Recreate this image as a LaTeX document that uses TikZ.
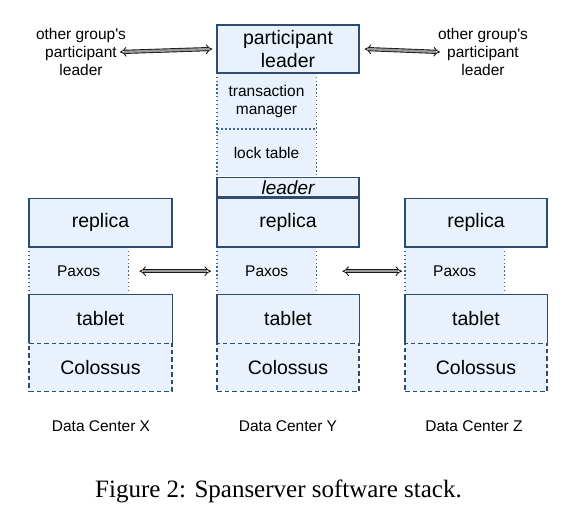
\documentclass[tikz,border=0pt]{standalone}
\usepackage{fontspec}
\setmainfont{Liberation Sans}
\newfontfamily\capfont{Liberation Serif}
\usetikzlibrary{arrows.meta}
\definecolor{boxfill}{HTML}{E8F1FC}
\definecolor{boxline}{HTML}{2C4D70}
\definecolor{dotline}{HTML}{3F6690}
\begin{document}
\begin{tikzpicture}[x=1pt,y=-1pt,
  bigtext/.style={font=\fontsize{19.5}{23.5}\selectfont},
  smalltext/.style={font=\fontsize{15.5}{18}\selectfont},
  solidbox/.style={draw=boxline, fill=boxfill, line width=1.4pt, inner sep=0pt, bigtext, align=center},
  fillbox/.style={fill=boxfill, inner sep=0pt, smalltext, align=center},
  dashbox/.style={draw=boxline, fill=boxfill, line width=1.4pt, dash pattern=on 4.5pt off 3pt, inner sep=0pt, bigtext},
  solidline/.style={draw=boxline, line width=1.4pt},
  dotside/.style={draw=dotline, line width=1.4pt, dash pattern=on 1.3pt off 2.6pt},
  finedash/.style={draw=dotline, line width=1.4pt, dash pattern=on 2.2pt off 1.8pt},
  dbl/.style={draw=black!90, double=black!40, double distance=2.4pt, line width=0.9pt, {Implies}-{Implies}},
  plain/.style={inner sep=0pt, smalltext, align=center}
]
\useasboundingbox (0,0) rectangle (581,510);

% ---------- middle column upper part ----------
\node[solidbox, minimum width=142pt, minimum height=48pt] (pl) at (288,49) {participant\\leader};
\node[fillbox, minimum width=99pt, minimum height=56pt] (tm) at (266.5,101) {transaction\\manager};
\node[fillbox, minimum width=99pt, minimum height=47pt] (lt) at (266.5,152.5) {lock table};
\draw[dotside] (tm.north west) -- (lt.south west);
\draw[dotside] (tm.north east) -- (lt.south east);
\draw[finedash] (tm.south west) -- (tm.south east);
\draw[solidline] (pl.south west) -- (pl.south east);
\node[solidbox, minimum width=142pt, minimum height=19.5pt, font=\fontsize{19}{22}\selectfont\itshape] (ld) at (288,187.25) {leader};

% ---------- columns ----------
\foreach \c/\x/\w in {1/100.5/143, 2/288/142, 3/476/142}{
  \node[fillbox, minimum width=99pt, minimum height=48pt, anchor=north west] (px\c) at (\x-\w/2,247) {Paxos};
  \draw[dotside] (px\c.north west) -- (px\c.south west);
  \draw[dotside] (px\c.north east) -- (px\c.south east);
  \node[solidbox, minimum width=\w pt, minimum height=48.5pt] (rp\c) at (\x,222.75) {replica};
  \node[dashbox, minimum width=\w pt, minimum height=48.5pt] (cl\c) at (\x,367.25) {Colossus};
  \node[fillbox, bigtext, minimum width=\w pt, minimum height=48pt] (tb\c) at (\x,319) {tablet};
  \draw[solidline] (tb\c.south west) -- (tb\c.north west) -- (tb\c.north east) -- (tb\c.south east);
}

% ---------- labels ----------
\node[plain] (ogl) at (81,52) {other group\textquotesingle s\\participant\\leader};
\node[plain] (ogr) at (483,52) {other group\textquotesingle s\\participant\\leader};
\coordinate (ogle) at (120,52);
\coordinate (ogrw) at (440,52);

\node[plain] (dcx) at (101,426) {Data Center X};
\node[plain] (dcy) at (288,426) {Data Center Y};
\node[plain] (dcz) at (474,426) {Data Center Z};

\node[inner sep=0pt, anchor=base, font=\capfont\fontsize{25}{30}\selectfont] (cap) at (278.5,497) {Figure 2: Spanserver software stack.};

% ---------- arrows ----------
\draw[dbl] (ogle) -- ([xshift=-4pt]pl.west);
\draw[dbl] ([xshift=5pt]pl.east) -- (ogrw);
\draw[dbl] ([xshift=11pt]px1.east) -- ([xshift=-6pt]px2.west);
\draw[dbl] ([xshift=26pt]px2.east) -- ([xshift=-3pt]px3.west);
\end{tikzpicture}
\end{document}
